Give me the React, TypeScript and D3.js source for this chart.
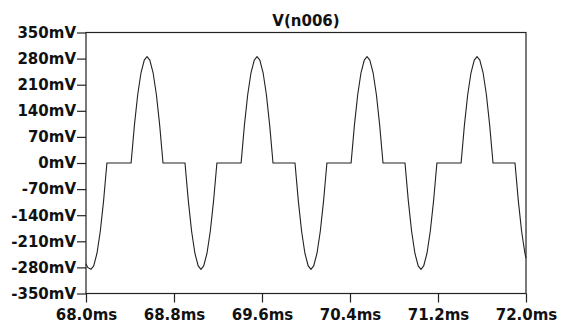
import { useRef, useEffect } from "react";
import * as d3 from "d3";

// V(n006) trace (time in ms, voltage in mV)
const timeMs = [
  68.0, 68.015, 68.045, 68.07, 68.1, 68.13, 68.16, 68.19,
  68.41, 68.44, 68.47, 68.5, 68.53, 68.555, 68.58, 68.61, 68.64, 68.67, 68.7,
  68.9, 68.93, 68.96, 68.99, 69.02, 69.045, 69.07, 69.1, 69.13, 69.16, 69.19,
  69.41, 69.44, 69.47, 69.5, 69.53, 69.555, 69.58, 69.61, 69.64, 69.67, 69.7,
  69.9, 69.93, 69.96, 69.99, 70.02, 70.045, 70.07, 70.1, 70.13, 70.16, 70.19,
  70.41, 70.44, 70.47, 70.5, 70.53, 70.555, 70.58, 70.61, 70.64, 70.67, 70.7,
  70.9, 70.93, 70.96, 70.99, 71.02, 71.045, 71.07, 71.1, 71.13, 71.16, 71.19,
  71.41, 71.44, 71.47, 71.5, 71.53, 71.555, 71.58, 71.61, 71.64, 71.67, 71.7,
  71.9, 71.93, 71.96, 71.99, 72.0,
];
const voltageMv = [
  -270, -280, -285, -276, -242, -183, -101, 0,
  0, 101, 183, 242, 276, 285, 276, 242, 183, 101, 0,
  0, -101, -183, -242, -276, -285, -276, -242, -183, -101, 0,
  0, 101, 183, 242, 276, 285, 276, 242, 183, 101, 0,
  0, -101, -183, -242, -276, -285, -276, -242, -183, -101, 0,
  0, 101, 183, 242, 276, 285, 276, 242, 183, 101, 0,
  0, -101, -183, -242, -276, -285, -276, -242, -183, -101, 0,
  0, 101, 183, 242, 276, 285, 276, 242, 183, 101, 0,
  0, -101, -183, -242, -255,
];

const yTicks = [350, 280, 210, 140, 70, 0, -70, -140, -210, -280, -350];
const xTicks = [68.0, 68.8, 69.6, 70.4, 71.2, 72.0];
const title = "V(n006)";

export default function App() {
  const svgRef = useRef(null);

  useEffect(() => {
    const width = 565;
    const height = 325;
    const left = 86, right = 526, top = 32.5, bottom = 293.5;

    const svg = d3.select(svgRef.current);
    svg.selectAll("*").remove();
    svg.attr("width", width).attr("height", height);

    svg.append("rect").attr("width", width).attr("height", height).attr("fill", "#fff");

    const x = d3.scaleLinear().domain([68, 72]).range([left, right]);
    const y = d3.scaleLinear().domain([-350, 350]).range([bottom, top]);

    const font = "'DejaVu Sans', sans-serif";

    // waveform
    const data = timeMs.map((t, i) => [t, voltageMv[i]] as [number, number]);
    const line = d3.line<[number, number]>()
      .x((d) => x(d[0]))
      .y((d) => y(d[1]));
    svg.append("path")
      .datum(data)
      .attr("d", line)
      .attr("fill", "none")
      .attr("stroke", "#222")
      .attr("stroke-width", 1.1);

    // frame
    svg.append("rect")
      .attr("x", left)
      .attr("y", top)
      .attr("width", right - left)
      .attr("height", bottom - top)
      .attr("fill", "none")
      .attr("stroke", "#222")
      .attr("stroke-width", 1.2);

    const yAxis = svg.append("g")
      .attr("transform", `translate(${left},0)`)
      .call(
        d3.axisLeft(y)
          .tickValues(yTicks)
          .tickSize(9)
          .tickPadding(1)
          .tickFormat((d) => `${d}mV`)
      );
    yAxis.select(".domain").remove();

    const xAxis = svg.append("g")
      .attr("transform", `translate(0,${bottom})`)
      .call(
        d3.axisBottom(x)
          .tickValues(xTicks)
          .tickSize(9)
          .tickPadding(7)
          .tickFormat((d) => `${(+d).toFixed(1)}ms`)
      );
    xAxis.select(".domain").remove();

    svg.selectAll(".tick line").attr("stroke", "#222").attr("stroke-width", 1.2);
    svg.selectAll(".tick text")
      .attr("fill", "#111")
      .style("font-family", font)
      .style("font-weight", "bold")
      .style("font-size", "15px");

    svg.append("text")
      .attr("x", (left + right) / 2)
      .attr("y", 26)
      .attr("text-anchor", "middle")
      .attr("fill", "#111")
      .style("font-family", font)
      .style("font-weight", "bold")
      .style("font-size", "15px")
      .text(title);
  }, []);

  return (
    <div style={{ position: "absolute", left: 0, top: 0 }}>
      <svg ref={svgRef}></svg>
    </div>
  );
}
